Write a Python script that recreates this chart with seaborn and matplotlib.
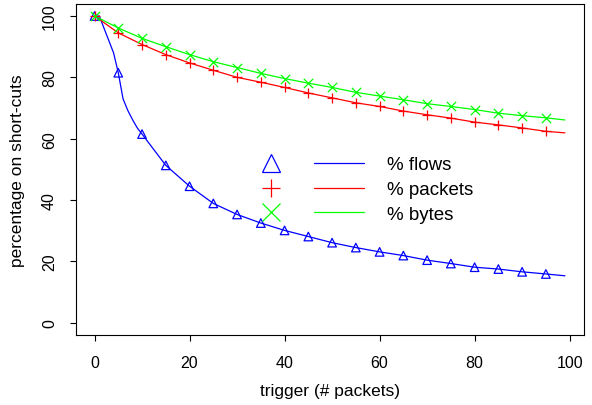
import matplotlib
matplotlib.use("Agg")
import matplotlib.pyplot as plt
from matplotlib.lines import Line2D
from matplotlib.legend_handler import HandlerTuple
import seaborn as sns
import numpy as np

# trigger values where the symbols are drawn
trigger_marks = [0, 5, 10, 15, 20, 25, 30, 35, 40, 45, 50, 55, 60, 65, 70, 75, 80, 85, 90, 95]
flows_marks = [100, 81.5, 61.5, 51.3, 44.5, 38.9, 35.3, 32.5, 30.1, 28.1,
               26.1, 24.5, 23.1, 21.9, 20.4, 19.3, 18.1, 17.5, 16.6, 15.9]
packets_marks = [100, 94.5, 90.7, 87.4, 84.7, 82.3, 80.0, 78.4, 76.7, 74.9,
                 73.3, 71.7, 70.5, 69.0, 67.8, 66.7, 65.4, 64.5, 63.5, 62.4]
bytes_marks = [100, 96.1, 92.7, 90.0, 87.4, 85.1, 83.2, 81.3, 79.6, 78.1,
               76.7, 75.1, 73.9, 72.7, 71.4, 70.5, 69.5, 68.3, 67.5, 66.8]

# line data (denser at the start of the flows curve, plus the last trigger 99)
flows_line_x = [0, 1, 2, 3, 4, 5, 6, 7, 8, 9, 10] + trigger_marks[3:] + [99]
flows_line_y = [100, 100, 96, 92, 88, 81.5, 73, 69.2, 66.2, 63.5, 61.5] + flows_marks[3:] + [15.3]
other_line_x = trigger_marks + [99]
packets_line_y = packets_marks + [61.9]
bytes_line_y = bytes_marks + [66.1]

sns.set_style("ticks")
plt.rcParams.update({
    "font.family": ["Liberation Sans", "DejaVu Sans"],
    "font.size": 11.5,
    "axes.labelsize": 12.5,
    "axes.linewidth": 0.8,
    "axes.edgecolor": "black",
    "xtick.major.size": 4.5,
    "ytick.major.size": 4.5,
    "xtick.major.width": 0.8,
    "ytick.major.width": 0.8,
    "xtick.color": "black",
    "ytick.color": "black",
    "text.color": "black",
    "axes.labelcolor": "black",
})

fig, ax = plt.subplots(figsize=(5.92, 4.06), dpi=100)
plt.subplots_adjust(left=0.1279, right=0.986, bottom=0.1724, top=0.9884)

blue, red, green = "#0000ff", "#ff0000", "#00ff00"
lw = 0.9

sns.lineplot(x=flows_line_x, y=flows_line_y, color=blue, lw=lw, ax=ax)
sns.lineplot(x=other_line_x, y=packets_line_y, color=red, lw=lw, ax=ax)
sns.lineplot(x=other_line_x, y=bytes_line_y, color=green, lw=lw, ax=ax)

sns.scatterplot(x=trigger_marks, y=flows_marks, marker="^", s=38,
                facecolor="none", edgecolor=blue, linewidth=0.9, ax=ax, zorder=3)
sns.scatterplot(x=trigger_marks, y=packets_marks, marker="+", s=55,
                color=red, linewidth=0.9, ax=ax, zorder=3)
sns.scatterplot(x=trigger_marks, y=bytes_marks, marker="x", s=45,
                color=green, linewidth=0.9, ax=ax, zorder=3)

ax.set_xlim(-3.96, 102.96)
ax.set_ylim(-4, 104)
ax.set_xticks(np.arange(0, 101, 20))
ax.set_yticks(np.arange(0, 101, 20))
ax.tick_params(axis="x", pad=10)
ax.tick_params(axis="y", pad=9, labelrotation=90)
for lab in ax.get_yticklabels():
    lab.set_va("center")
ax.set_xlabel("trigger (# packets)", labelpad=9)
ax.set_ylabel("percentage on short-cuts", labelpad=12)
for s in ax.spines.values():
    s.set_visible(True)

# legend: big symbol, then line sample, then text
handles = [
    (Line2D([], [], ls="none", marker="^", ms=13.5, mfc="none", mec=blue, mew=0.9),
     Line2D([], [], color=blue, lw=lw)),
    (Line2D([], [], ls="none", marker="+", ms=13, mec=red, mew=0.9),
     Line2D([], [], color=red, lw=lw)),
    (Line2D([], [], ls="none", marker="x", ms=13, mec=green, mew=0.9),
     Line2D([], [], color=green, lw=lw)),
]
labels = ["% flows", "% packets", "% bytes"]
ax.legend(handles, labels, handler_map={tuple: HandlerTuple(ndivide=2, pad=0.96)},
          handlelength=6.3, handletextpad=1.23, labelspacing=0.4, frameon=False,
          borderaxespad=0, loc="upper left", bbox_to_anchor=(0.3205, 0.562),
          fontsize=13.5)

plt.savefig("out.png", dpi=100)
plt.close()
